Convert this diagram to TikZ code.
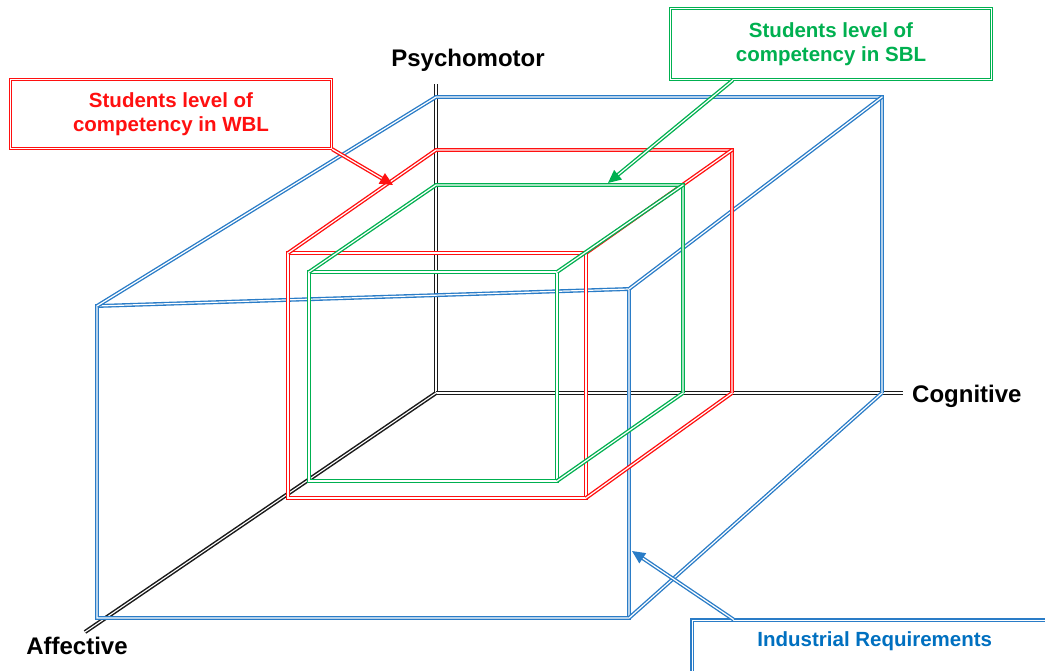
\documentclass[tikz,border=0pt]{standalone}
\usepackage{fontspec}
\setmainfont{Liberation Sans}
\usetikzlibrary{arrows.meta}
\definecolor{wblred}{HTML}{FF1010}
\definecolor{sblgreen}{HTML}{00B050}
\definecolor{indblue}{HTML}{0070C0}
\definecolor{edgeblue}{HTML}{2A7CC7}
\definecolor{axisgray}{HTML}{1A1A1A}
\begin{document}
\begin{tikzpicture}[x=1pt,y=-1pt,
  dbl/.style={double=white, double distance=1.2pt, line width=1.35pt, line join=miter},
  axisline/.style={dbl, draw=axisgray, line width=1.5pt, double distance=1.1pt},
  edge/.style={dbl, draw=#1},
  callout/.style={dbl, draw=#1, fill=white,
    font=\fontsize{20.5}{23.5}\selectfont\bfseries, align=center, inner sep=0pt},
  axlabel/.style={font=\fontsize{24}{28}\selectfont\bfseries, inner sep=0pt},
  pointer/.style={dbl, draw=#1, -{Triangle[length=13pt,width=12pt]}},
]
\useasboundingbox (0,0) rectangle (1045,670);
\clip (0,0) rectangle (1045,670);

% axes
\coordinate (o) at (436,393);
\coordinate (pEnd) at (436,84);
\coordinate (cEnd) at (903,393);
\coordinate (aEnd) at (85,632);
\draw[axisline] (o) -- (pEnd);
\draw[axisline] (o) -- (cEnd);
\draw[axisline] (o) -- (aEnd);
\node[axlabel] (psy) at (468,60) {Psychomotor};
\node[axlabel, anchor=west] (cog) at (912,396) {Cognitive};
\node[axlabel] (aff) at (77,646) {Affective};

% industrial requirements box
\coordinate (b1) at (97,306);
\coordinate (b2) at (629,289);
\coordinate (b3) at (629,618);
\coordinate (b4) at (97,618);
\coordinate (b5) at (436,97);
\coordinate (b6) at (882,97);
\coordinate (b7) at (882,393);
\draw[edge=edgeblue] (b1) -- (b2) -- (b3) -- (b4) -- cycle;
\draw[edge=edgeblue] (b1) -- (b5) -- (b6) -- (b7);
\draw[edge=edgeblue] (b2) -- (b6);
\draw[edge=edgeblue] (b3) -- (b7);

% WBL competency box
\coordinate (r1) at (288,253);
\coordinate (r2) at (586,253);
\coordinate (r3) at (586,498);
\coordinate (r4) at (288,498);
\coordinate (r5) at (436,150);
\coordinate (r6) at (732,150);
\coordinate (r7) at (732,393);
\draw[edge=wblred] (r1) -- (r2) -- (r3) -- (r4) -- cycle;
\draw[edge=wblred] (r1) -- (r5) -- (r6) -- (r7);
\draw[edge=wblred] (r2) -- (r6);
\draw[edge=wblred] (r3) -- (r7);

% SBL competency box
\coordinate (g1) at (309,272);
\coordinate (g2) at (557,272);
\coordinate (g3) at (557,481);
\coordinate (g4) at (309,481);
\coordinate (g5) at (436,185);
\coordinate (g6) at (683,185);
\coordinate (g7) at (683,393);
\draw[edge=sblgreen] (g1) -- (g2) -- (g3) -- (g4) -- cycle;
\draw[edge=sblgreen] (g1) -- (g5) -- (g6) -- (g7);
\draw[edge=sblgreen] (g2) -- (g6);
\draw[edge=sblgreen] (g3) -- (g7);

% callouts
\node[callout=wblred, text=wblred, minimum width=321pt, minimum height=69pt] (wbl) at (171,114)
  {Students level of\\competency in WBL};
\node[callout=sblgreen, text=sblgreen, minimum width=321pt, minimum height=71pt] (sbl) at (831,44)
  {Students level of\\competency in SBL};
\node[callout=edgeblue, text=indblue, anchor=north west, minimum width=365pt,
  text height=26pt, text depth=40pt] (ind) at (691.6,619.6)
  {Industrial Requirements};

\coordinate (wblTip) at (393,185);
\coordinate (sblTip) at (608,183);
\coordinate (indTip) at (632,551);
\draw[pointer=wblred] (wbl.south east) -- (wblTip);
\draw[pointer=sblgreen] ([xshift=63pt]sbl.south west) -- (sblTip);
\draw[pointer=edgeblue] ([xshift=42pt]ind.north west) -- (indTip);
\end{tikzpicture}
\end{document}
